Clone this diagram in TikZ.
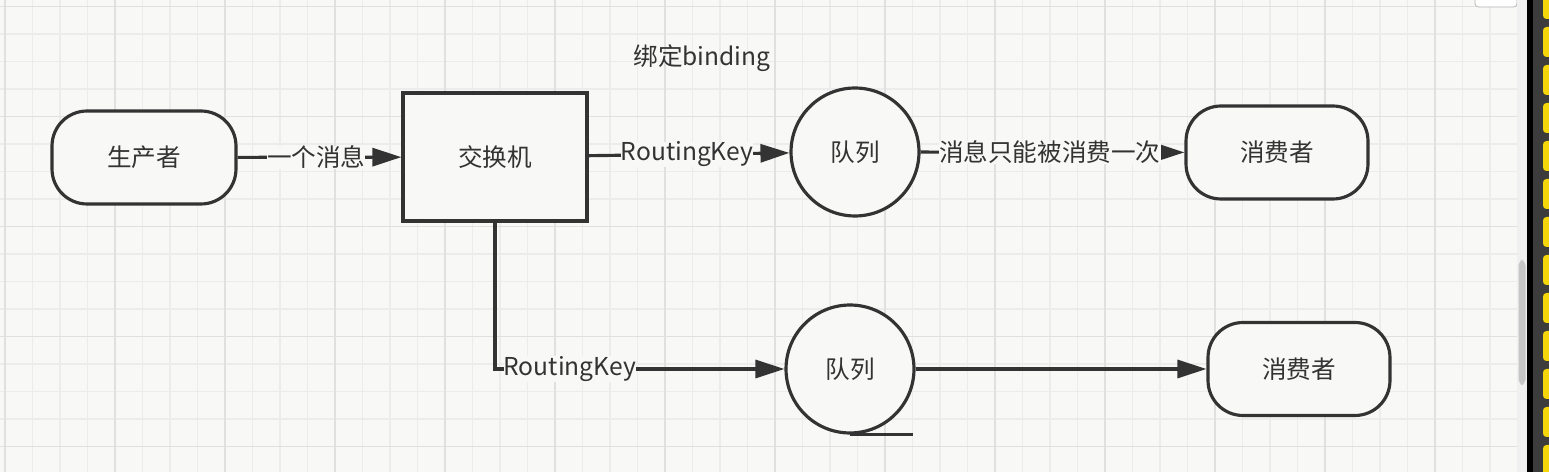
\documentclass[tikz,border=0pt]{standalone}
\usepackage{fontspec}
\newfontfamily\cjk{Noto Sans CJK SC}
\definecolor{mqline}{HTML}{333333}
\definecolor{mqbg}{HTML}{F8F8F7}
\definecolor{mqgrid}{HTML}{ECECEC}
\definecolor{mqmajor}{HTML}{E0E0E0}
\definecolor{mqdark}{HTML}{3C3C3C}
\definecolor{mqyellow}{HTML}{F5D60A}
\usetikzlibrary{arrows.meta,positioning}

\tikzset{
  mqtext/.style={font=\cjk\fontsize{14}{16}\selectfont, text=mqline},
  term/.style={mqtext, draw=mqline, line width=1.8pt, fill=mqbg, rounded corners=0.7cm, minimum height=1.86cm},
  exch/.style={mqtext, draw=mqline, line width=1.8pt, fill=mqbg, minimum width=3.68cm, minimum height=2.56cm},
  queue/.style={mqtext, circle, draw=mqline, line width=1.8pt, fill=mqbg, minimum size=2.56cm},
  flow/.style={draw=mqline, line width=1.8pt, -{Triangle[length=0.58cm, width=0.36cm]}},
  edge/.style={draw=mqline, line width=2pt},
  edgelabel/.style={mqtext, fill=mqbg, inner sep=0pt},
}

\begin{document}
\begin{tikzpicture}[x=0.02cm, y=-0.02cm]
  \useasboundingbox (0,0) rectangle (1549,472);
  \clip (0,0) rectangle (1549,472);
  % canvas and grid
  \fill[mqbg] (0,0) rectangle (1517,472);
  \foreach \i in {0,...,55}
    \draw[mqgrid, line width=0.6pt] ({5+27.5*\i},0) -- ({5+27.5*\i},472);
  \foreach \i in {0,...,16}
    \draw[mqgrid, line width=0.6pt] (0,{6.5+27.5*\i}) -- (1517,{6.5+27.5*\i});
  \foreach \i in {0,...,13}
    \draw[mqmajor, line width=0.7pt] ({5+110*\i},0) -- ({5+110*\i},472);
  \foreach \i in {0,...,4}
    \draw[mqmajor, line width=0.7pt] (0,{6.5+110*\i}) -- (1517,{6.5+110*\i});
  \filldraw[fill=white, draw=gray!60, rounded corners=2pt] (1475,-5) rectangle (1517,7);

  % scroll bar and side strip
  \fill[gray!12] (1517,0) rectangle (1527,472);
  \fill[gray!45, rounded corners=3pt] (1518.5,260) rectangle (1525.5,385);
  \fill[black] (1527,0) rectangle (1533,472);
  \fill[mqdark] (1533,0) rectangle (1549,472);
  \foreach \y in {-11,27,65,...,445}
    \fill[mqyellow, rounded corners=2pt] (1543,\y) rectangle (1553,{\y+30});

  % nodes
  \node[term, minimum width=3.68cm] (prod) at (144,157.5) {生产者};
  \node[exch] (ex) at (495,157) {交换机};
  \node[queue] (q1) at (855,152) {队列};
  \node[term, minimum width=3.64cm] (c1) at (1277,152.5) {消费者};
  \node[queue] (q2) at (850,369) {队列};
  \node[term, minimum width=3.64cm] (c2) at (1299,369) {消费者};
  \node[mqtext] (bind) at (702,58) {绑定binding};

  % connectors
  \draw[flow] (prod) -- node[edgelabel, pos=0.48] {一个消息} (ex);
  \draw[flow] (ex) -- node[edgelabel, pos=0.49] {RoutingKey} (q1);
  \draw[flow] (q1) -- node[edgelabel, pos=0.49] {消息只能被消费一次} (c1);
  \draw[flow] (ex.south) |- node[edgelabel, pos=0.5, anchor=west, xshift=4pt] {RoutingKey} (q2);
  \draw[flow] (q2) -- (c2);
  \draw[edge] (q2.south) -- ++(63,0);
\end{tikzpicture}
\end{document}
